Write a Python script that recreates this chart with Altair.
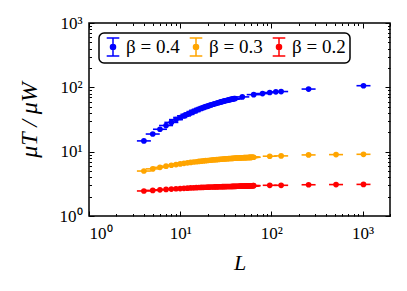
import altair as alt
import pandas as pd

# ---- data ----
series_names = ["β = 0.4", "β = 0.3", "β = 0.2"]
series_colors = ["#0000ff", "#ffa500", "#ff0000"]

L_b04 = list(range(4, 41)) + [48, 64, 80, 96, 112, 128, 256, 1024]
mu_b04 = [14.7, 18.8, 22.3, 25.5, 28.5, 31.5, 34.0, 36.0, 38.0, 40.0,
          42.0, 44.0, 45.5, 47.0, 48.5, 50.0, 51.0, 52.5, 53.5, 54.5,
          55.5, 56.5, 57.5, 58.5, 59.3, 60.0, 61.0, 61.7, 62.4, 63.0,
          63.7, 64.3, 65.0, 65.5, 66.0, 66.6, 67.0,
          71.0, 77.0, 80.0, 83.0, 85.0, 86.0, 94.0, 106.0]

L_b03 = list(range(4, 65)) + [96, 128, 256, 512, 1024]
mu_b03 = [5.0, 5.4, 5.7, 5.95, 6.15, 6.3, 6.45, 6.58, 6.7, 6.8,
          6.9, 6.98, 7.05, 7.12, 7.18, 7.24, 7.3, 7.35, 7.4, 7.44,
          7.48, 7.52, 7.56, 7.6, 7.63, 7.66, 7.69, 7.72, 7.75, 7.77,
          7.8, 7.82, 7.84, 7.86, 7.88, 7.9, 7.92, 7.94, 7.95, 7.97,
          7.98, 8.0, 8.01, 8.02, 8.04, 8.05, 8.06, 8.07, 8.08, 8.09,
          8.1, 8.11, 8.12, 8.13, 8.14, 8.15, 8.16, 8.17, 8.18, 8.19,
          8.2,
          8.5, 8.6, 8.9, 9.0, 9.1]

L_b02 = list(range(4, 65)) + [96, 128, 256, 512, 1024]
mu_b02 = [2.45, 2.5, 2.55, 2.59, 2.62, 2.65, 2.67, 2.69, 2.71, 2.73,
          2.74, 2.76, 2.77, 2.78, 2.79, 2.8, 2.81, 2.815, 2.82, 2.825,
          2.83, 2.835, 2.84, 2.845, 2.85, 2.855, 2.86, 2.862, 2.865, 2.87,
          2.873, 2.876, 2.879, 2.882, 2.885, 2.888, 2.891, 2.894, 2.897, 2.9,
          2.903, 2.906, 2.909, 2.912, 2.915, 2.918, 2.92, 2.923, 2.926, 2.929,
          2.932, 2.935, 2.938, 2.94, 2.943, 2.946, 2.949, 2.952, 2.955, 2.958,
          2.96,
          3.0, 3.0, 3.06, 3.08, 3.1]

x_major = [1, 10, 100, 1000]
y_major = [1, 10, 100, 1000]
x_all_ticks = [m * 10 ** e for e in range(3) for m in range(1, 10)] + [1000, 2000]
y_all_ticks = [m * 10 ** e for e in range(3) for m in range(1, 10)] + [1000]

rows = []
for name, Ls, mus in zip(series_names, [L_b04, L_b03, L_b02], [mu_b04, mu_b03, mu_b02]):
    for L, mu in zip(Ls, mus):
        rows.append({"series": name, "L": L, "mu": mu})
df = pd.DataFrame(rows)

W, H = 301, 193
FONT = "Liberation Serif"

xs = alt.Scale(type="log", domain=[1, 2000], nice=False)
ys = alt.Scale(type="log", domain=[1, 1000], nice=False)
cs = alt.Scale(domain=series_names, range=series_colors)

lab_expr = ("datum.value == 1 ? '10\u2070' : datum.value == 10 ? '10\u00b9' : "
            "datum.value == 100 ? '10\u00b2' : '10\u00b3'")
major_test = "datum.value == 1 || datum.value == 10 || datum.value == 100 || datum.value == 1000"
tick_size = {"condition": {"test": major_test, "value": 5}, "value": 2.5}

symbol_path = ("M0,-1L0,1M-0.7,-1L0.7,-1M-0.7,1L0.7,1"
               "M-0.28,0A0.28,0.28,0,1,0,0.28,0A0.28,0.28,0,1,0,-0.28,0Z")

legend = alt.Legend(
    title=None, orient="none", legendX=10, legendY=10, direction="horizontal",
    symbolType=symbol_path, symbolSize=324, symbolStrokeWidth=1.5,
    symbolStrokeColor={"expr": "scale('color', datum.value)"},
    symbolOpacity=1, labelFont=FONT, labelFontSize=19, labelColor="black",
    labelOffset=3, columnPadding=6, padding=4, strokeColor="black",
    cornerRadius=5,
)

# layer 1: points + label axes
points = alt.Chart(df).mark_point(filled=True, shape="circle", size=32, opacity=1).encode(
    x=alt.X("L:Q", scale=xs, axis=alt.Axis(
        orient="bottom", values=x_major, labelExpr=lab_expr, tickSize=0,
        domain=False, grid=False, labelFont=FONT, labelFontSize=17,
        labelColor="black", labelPadding=9, title="L", titleFont=FONT,
        titleFontSize=22, titleFontStyle="italic", titleFontWeight="normal",
        titleColor="black", titlePadding=11)),
    y=alt.Y("mu:Q", scale=ys, axis=alt.Axis(
        orient="left", values=y_major, labelExpr=lab_expr, tickSize=0,
        domain=False, grid=False, labelFont=FONT, labelFontSize=17,
        labelColor="black", labelPadding=7, title="μT / μW", titleFont=FONT,
        titleFontSize=24, titleFontStyle="italic", titleFontWeight="normal",
        titleColor="black", titlePadding=18)),
    color=alt.Color("series:N", scale=cs, legend=legend),
)

# layer 2: horizontal error bars + inward ticks at bottom / left
bars = alt.Chart(df).mark_tick(orient="horizontal", size=14, thickness=1.6, opacity=1).encode(
    x=alt.X("L:Q", scale=xs, axis=alt.Axis(
        orient="top", offset=-H, values=x_all_ticks, labels=False, domain=False,
        grid=False, tickSize=tick_size, tickColor="black", tickWidth=1, title=None)),
    y=alt.Y("mu:Q", scale=ys, axis=alt.Axis(
        orient="right", offset=-W, values=y_all_ticks, labels=False, domain=False,
        grid=False, tickSize=tick_size, tickColor="black", tickWidth=1, title=None)),
    color=alt.Color("series:N", scale=cs, legend=legend),
)

# layer 3: invisible, inward ticks at top / right
frame = alt.Chart(df).mark_point(opacity=0).encode(
    x=alt.X("L:Q", scale=xs, axis=alt.Axis(
        orient="bottom", offset=-H, values=x_all_ticks, labels=False, domain=False,
        grid=False, tickSize=tick_size, tickColor="black", tickWidth=1, title=None)),
    y=alt.Y("mu:Q", scale=ys, axis=alt.Axis(
        orient="left", offset=-W, values=y_all_ticks, labels=False, domain=False,
        grid=False, tickSize=tick_size, tickColor="black", tickWidth=1, title=None)),
)

chart = alt.layer(bars, points, frame).resolve_axis(
    x="independent", y="independent"
).properties(
    width=W, height=H,
    autosize=alt.AutoSizeParams(type="none"),
    padding={"left": 81, "top": 15, "right": 9, "bottom": 60},
).configure_view(stroke="black", strokeWidth=1.5).configure_legend(
    strokeWidth=1.5, labelFont=FONT, labelFontSize=19, labelColor="black"
)

chart.save("out.html", embed_options={"renderer": "svg", "actions": False})
